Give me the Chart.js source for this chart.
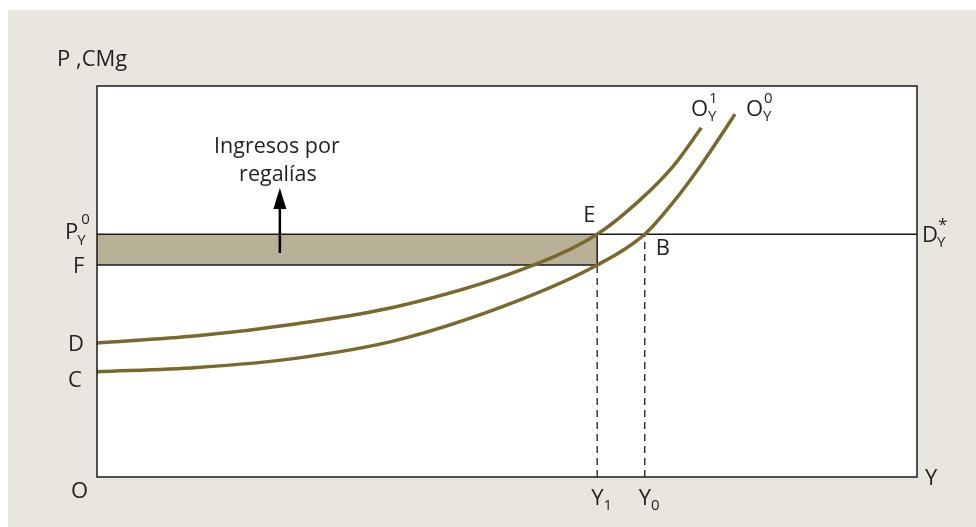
<!DOCTYPE html>
<html>
<head>
<meta charset="utf-8">
<script src="https://cdn.jsdelivr.net/npm/chart.js@4/dist/chart.umd.min.js"></script>
<style>
  html, body { margin: 0; padding: 0; background: #fff; }
</style>
</head>
<body>
<canvas id="rentChart" width="976" height="527"></canvas>
<script>
// supply curves O_Y^1 (with royalty) and O_Y^0 (without)
const curveO1X = [0, 12.2, 24.4, 36.6, 51.6, 61.0, 66.2, 70.2, 73.7];
const curveO1Y = [34.3, 36.1, 39.2, 43.6, 52.9, 62.1, 70.8, 79.3, 89.3];
const curveO0X = [0, 12.2, 24.4, 36.6, 51.6, 61.0, 66.8, 70.2, 73.5, 76.3, 77.8];
const curveO0Y = [26.9, 28.0, 30.4, 35.0, 45.3, 54.2, 62.1, 70.1, 79.3, 88.0, 92.8];

// levels on the axes
const priceP0 = 62.1;
const priceF = 54.2;
const priceD = 34.3;
const priceC = 26.9;
const qtyY1 = 61.0;
const qtyY0 = 66.8;
const qtyMax = 100;

// arrow for "Ingresos por regalías"
const arrowX = 22.3;
const arrowFrom = 57.3;
const arrowTo = 73.9;

const toPts = (xs, ys) => xs.map((x, i) => ({ x: x, y: ys[i] }));

const OLIVE = '#7a692d';
const INK = '#231f20';
const FONT = '"Open Sans", sans-serif';

const backdrop = {
    id: 'backdrop',
    beforeDraw(chart) {
        const ctx = chart.ctx;
        const a = chart.chartArea;
        ctx.save();
        ctx.fillStyle = '#ffffff';
        ctx.fillRect(0, 0, chart.width, chart.height);
        ctx.fillStyle = '#e9e6df';
        ctx.fillRect(8, 10, chart.width - 8, chart.height - 10);
        ctx.fillStyle = '#ffffff';
        ctx.fillRect(a.left, a.top, a.right - a.left, a.bottom - a.top);
        ctx.restore();
    }
};

function txt(ctx, s, x, y, size) {
    ctx.font = size + 'px ' + FONT;
    ctx.fillText(s, x, y);
    return ctx.measureText(s).width;
}

const labels = {
    id: 'labels',
    afterDatasetsDraw(chart) {
        const ctx = chart.ctx;
        const a = chart.chartArea;
        const sx = chart.scales.x, sy = chart.scales.y;
        ctx.save();

        // frame
        ctx.strokeStyle = '#1a1a1a';
        ctx.lineWidth = 1.5;
        ctx.strokeRect(a.left, a.top, a.right - a.left, a.bottom - a.top);

        // arrow
        const ax = sx.getPixelForValue(arrowX);
        const ay0 = sy.getPixelForValue(arrowFrom);
        const ay1 = sy.getPixelForValue(arrowTo);
        ctx.strokeStyle = '#000';
        ctx.fillStyle = '#000';
        ctx.lineWidth = 2.5;
        ctx.beginPath();
        ctx.moveTo(ax, ay0);
        ctx.lineTo(ax, ay1 + 18);
        ctx.stroke();
        ctx.beginPath();
        ctx.moveTo(ax, ay1);
        ctx.lineTo(ax - 6.5, ay1 + 21);
        ctx.lineTo(ax + 6.5, ay1 + 21);
        ctx.closePath();
        ctx.fill();

        ctx.fillStyle = INK;
        ctx.textBaseline = 'alphabetic';
        ctx.textAlign = 'left';

        // axis titles
        txt(ctx, 'P ,CMg', 57, 66, 22);
        txt(ctx, 'Y', a.right + 8, a.bottom + 8, 22);
        txt(ctx, 'O', 71, a.bottom + 21, 22);

        // price levels
        const yP = sy.getPixelForValue(priceP0);
        let w = txt(ctx, 'P', 65, yP + 5, 22);
        txt(ctx, 'Y', 65 + w - 1, yP + 11, 15);
        txt(ctx, '0', 65 + w + 3, yP - 10, 15);
        txt(ctx, 'F', 73, sy.getPixelForValue(priceF) + 8, 22);
        txt(ctx, 'D', 68, sy.getPixelForValue(priceD) + 8, 22);
        txt(ctx, 'C', 68, sy.getPixelForValue(priceC) + 15, 22);

        // D_Y^*
        w = txt(ctx, 'D', a.right + 5, yP + 8, 22);
        txt(ctx, 'Y', a.right + 5 + w - 1, yP + 13, 15);
        txt(ctx, '*', a.right + 5 + w, yP - 4, 17);

        // points E, B
        txt(ctx, 'E', sx.getPixelForValue(qtyY1) - 14, yP - 12, 22);
        txt(ctx, 'B', sx.getPixelForValue(qtyY0) + 11, yP + 21, 22);

        // Y1, Y0
        const x1 = sx.getPixelForValue(qtyY1);
        const x0 = sx.getPixelForValue(qtyY0);
        w = txt(ctx, 'Y', x1 - 6, a.bottom + 28, 22);
        txt(ctx, '1', x1 - 6 + w, a.bottom + 33, 15);
        w = txt(ctx, 'Y', x0 - 6, a.bottom + 28, 22);
        txt(ctx, '0', x0 - 6 + w, a.bottom + 33, 15);

        // curve labels
        w = txt(ctx, 'O', 691, 116, 22);
        txt(ctx, 'Y', 691 + w, 121, 15);
        txt(ctx, '1', 691 + w + 1, 103, 15);
        w = txt(ctx, 'O', 746, 116, 22);
        txt(ctx, 'Y', 746 + w, 121, 15);
        txt(ctx, '0', 746 + w + 1, 103, 15);

        // annotation text
        ctx.textAlign = 'center';
        txt(ctx, 'Ingresos por', ax - 3, 153, 21.5);
        txt(ctx, 'regalías', ax - 2, 181, 21.5);

        ctx.restore();
    }
};

new Chart(document.getElementById('rentChart').getContext('2d'), {
    type: 'line',
    data: {
        datasets: [
            {
                label: 'O1',
                data: toPts(curveO1X, curveO1Y),
                borderColor: OLIVE,
                borderWidth: 3.5,
                pointRadius: 0,
                cubicInterpolationMode: 'monotone',
                fill: false,
                order: 1
            },
            {
                label: 'O0',
                data: toPts(curveO0X, curveO0Y),
                borderColor: OLIVE,
                borderWidth: 3.5,
                pointRadius: 0,
                cubicInterpolationMode: 'monotone',
                fill: false,
                order: 1
            },
            {
                label: 'P0 line',
                data: [{ x: 0, y: priceP0 }, { x: qtyMax, y: priceP0 }],
                borderColor: '#1a1a1a',
                borderWidth: 1.5,
                pointRadius: 0,
                fill: false,
                order: 2
            },
            {
                label: 'F line',
                data: [{ x: 0, y: priceF }, { x: qtyY1, y: priceF }],
                borderColor: '#1a1a1a',
                borderWidth: 1.5,
                pointRadius: 0,
                fill: false,
                order: 2
            },
            {
                label: 'E edge',
                data: [{ x: qtyY1, y: priceF }, { x: qtyY1, y: priceP0 }],
                borderColor: '#1a1a1a',
                borderWidth: 1.5,
                pointRadius: 0,
                fill: false,
                order: 2
            },
            {
                label: 'Y1 drop',
                data: [{ x: qtyY1, y: 0 }, { x: qtyY1, y: priceF }],
                borderColor: '#1a1a1a',
                borderWidth: 1.3,
                borderDash: [7, 5],
                pointRadius: 0,
                fill: false,
                order: 2
            },
            {
                label: 'Y0 drop',
                data: [{ x: qtyY0, y: 0 }, { x: qtyY0, y: priceP0 }],
                borderColor: '#1a1a1a',
                borderWidth: 1.3,
                borderDash: [7, 5],
                pointRadius: 0,
                fill: false,
                order: 2
            },
            {
                label: 'royalty',
                data: [{ x: 0, y: priceP0 }, { x: qtyY1, y: priceP0 }],
                borderWidth: 0,
                borderColor: 'rgba(0,0,0,0)',
                backgroundColor: '#b8b197',
                pointRadius: 0,
                fill: { value: priceF },
                order: 3
            }
        ]
    },
    options: {
        responsive: false,
        animation: false,
        devicePixelRatio: 1,
        layout: { padding: { left: 97, right: 59, top: 86, bottom: 50 } },
        plugins: {
            legend: { display: false },
            tooltip: { enabled: false }
        },
        scales: {
            x: { type: 'linear', min: 0, max: qtyMax, display: false },
            y: { type: 'linear', min: 0, max: 100, display: false }
        }
    },
    plugins: [backdrop, labels]
});
</script>
</body>
</html>
